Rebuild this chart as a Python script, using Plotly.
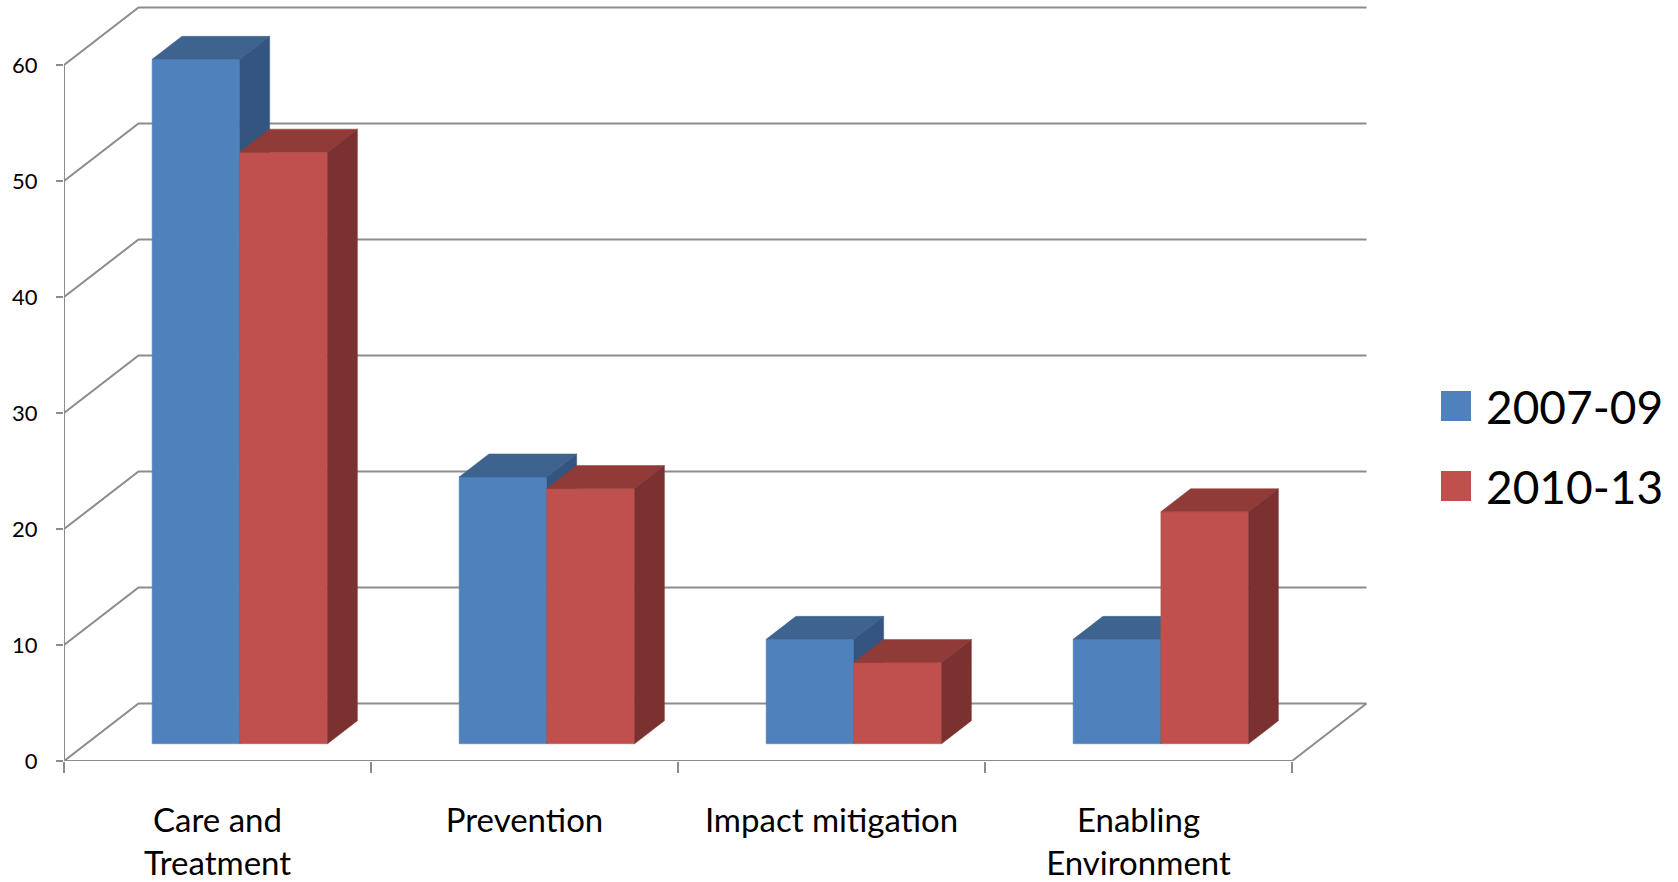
import plotly.graph_objects as go

# ---- data ----
categories = ["Care and<br>Treatment", "Prevention", "Impact mitigation", "Enabling<br>Environment"]
series_names = ["2007-09", "2010-13"]
values_2007_09 = [59, 23, 9, 9]
values_2010_13 = [51, 22, 7, 20]
y_ticks = [0, 10, 20, 30, 40, 50, 60]

# ---- styling ----
FONT = "Lato"
GRID = "#8c8c8c"
face_colors = [
    # front, top, side
    ("#4f81bd", "#3e638f", "#34557f"),
    ("#c0504d", "#913b39", "#7a3130"),
]

# ---- canvas geometry ----
W, H = 1678, 882
L, B = 64, 121                     # plot area: left edge and bottom margin
PX_X, PX_Y = 307.0, 11.6           # pixels per category / per value unit
plot_w, plot_h = W - L, H - B
x_max = plot_w / PX_X
y_max = plot_h / PX_Y

# oblique depth of the box (in data units) and layout of the bar slab
DX, DY = 74.5 / PX_X, 57.5 / PX_Y
n_series = 2
gap = 1.5
bar_w = 1 / (n_series + gap)
d_front, d_back = 0.3, 0.7


def proj(x, y, d):
    return x + d * DX, y + d * DY


fig = go.Figure()


def add_line(pts, width=2):
    xs, ys = zip(*pts)
    fig.add_trace(go.Scatter(x=list(xs), y=list(ys), mode="lines",
                             line=dict(color=GRID, width=width),
                             hoverinfo="skip", showlegend=False))


n_cat = len(categories)
ymax_tick = max(y_ticks)

# walls: back-wall gridlines and side-wall diagonals
for v in y_ticks:
    add_line([proj(0, v, 0), proj(0, v, 1), proj(n_cat, v, 1)])
# front vertical edge and floor outline
add_line([proj(0, 0, 0), proj(0, ymax_tick, 0)])
add_line([proj(0, 0, 0), proj(n_cat, 0, 0), proj(n_cat, 0, 1)])


def add_face(pts, color, name, val):
    xs, ys = zip(*(pts + [pts[0]]))
    fig.add_trace(go.Scatter(x=list(xs), y=list(ys), mode="lines", fill="toself",
                             fillcolor=color, line=dict(color=color, width=0.5),
                             name=name, text=f"{val}", hoverinfo="name+text",
                             showlegend=False))


all_values = [values_2007_09, values_2010_13]
for i in range(n_cat):
    for s, vals in enumerate(all_values):
        v = vals[i]
        x0 = i + gap / 2 * bar_w + s * bar_w
        x1 = x0 + bar_w
        front, top, side = face_colors[s]
        add_face([proj(x0, 0, d_front), proj(x1, 0, d_front),
                  proj(x1, v, d_front), proj(x0, v, d_front)], front, series_names[s], v)
        add_face([proj(x0, v, d_front), proj(x1, v, d_front),
                  proj(x1, v, d_back), proj(x0, v, d_back)], top, series_names[s], v)
        add_face([proj(x1, 0, d_front), proj(x1, 0, d_back),
                  proj(x1, v, d_back), proj(x1, v, d_front)], side, series_names[s], v)


def px_to_paper(px, py):
    return (px - L) / plot_w, (plot_h - py) / plot_h


# legend
for s, name in enumerate(series_names):
    cy = 406 + 80 * s
    x0, y0 = px_to_paper(1441, cy + 15)
    x1, y1 = px_to_paper(1471, cy - 15)
    fig.add_shape(type="rect", xref="paper", yref="paper", x0=x0, y0=y0, x1=x1, y1=y1,
                  fillcolor=face_colors[s][0], line=dict(width=0))
    tx, ty = px_to_paper(1484, cy)
    fig.add_annotation(xref="paper", yref="paper", x=tx, y=ty, text=name,
                       showarrow=False, xanchor="left", yanchor="middle",
                       font=dict(family=FONT, size=46, color="black"))

fig.update_layout(
    width=W, height=H,
    margin=dict(l=L, r=0, t=0, b=B, autoexpand=False),
    paper_bgcolor="white", plot_bgcolor="white",
    showlegend=False,
    xaxis=dict(range=[0, x_max], showgrid=False, zeroline=False, showline=False,
               automargin=False,
               tickvals=[i + 0.5 for i in range(n_cat)], ticktext=categories,
               ticks="", ticklabelstandoff=37,
               tickfont=dict(family=FONT, size=33, color="black"),
               minor=dict(tickvals=list(range(n_cat + 1)), ticks="outside",
                          ticklen=11, tickwidth=2, tickcolor=GRID),
               fixedrange=True),
    yaxis=dict(range=[0, y_max], showgrid=False, zeroline=False, showline=False,
               automargin=False,
               tickvals=y_ticks, ticks="outside", ticklen=7, tickwidth=2,
               tickcolor=GRID, ticklabelstandoff=14,
               tickfont=dict(family=FONT, size=22, color="black"),
               fixedrange=True),
)

fig.write_html("out.html")
